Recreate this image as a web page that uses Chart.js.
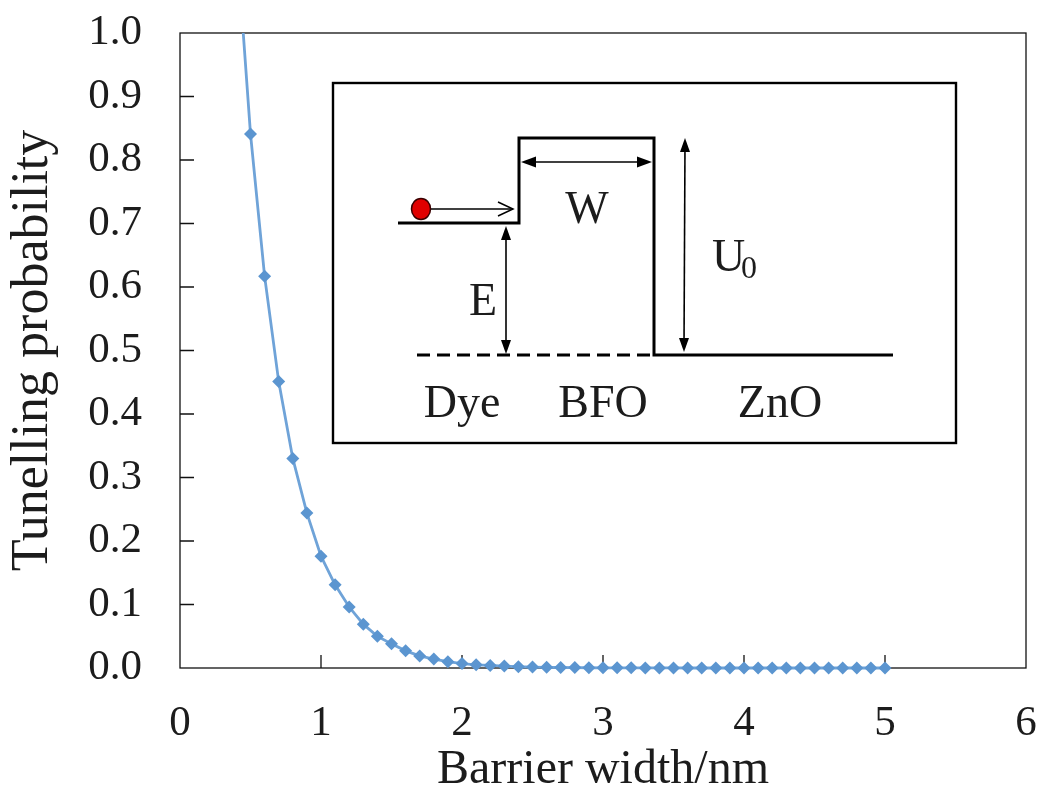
<!DOCTYPE html>
<html>
<head>
<meta charset="utf-8">
<script src="https://cdn.jsdelivr.net/npm/chart.js@4"></script>
<style>
html,body{margin:0;padding:0;background:#fff;}
canvas{display:block;}
</style>
</head>
<body>
<canvas id="c" width="1039" height="803"></canvas>
<script>
// ---- data ----
const barrierWidth = [0.4,0.5,0.6,0.7,0.8,0.9,1.0,1.1,1.2,1.3,1.4,1.5,1.6,1.7,1.8,1.9,2.0,
  2.1,2.2,2.3,2.4,2.5,2.6,2.7,2.8,2.9,3.0,3.1,3.2,3.3,3.4,3.5,3.6,3.7,3.8,3.9,4.0,
  4.1,4.2,4.3,4.4,4.5,4.6,4.7,4.8,4.9,5.0];
const tunnelProb = [1.15,0.841,0.617,0.451,0.330,0.244,0.176,0.131,0.096,0.069,0.050,0.038,0.027,0.019,0.014,0.010,0.007,
  0.005,0.004,0.003,0.002,0.0015,0.001,0.0008,0.0006,0.0004,0.0003,0.0002,0.0002,0.0001,0.0001,0.0001,0,0,0,0,0,
  0,0,0,0,0,0,0,0,0,0];
const xTickValues = [0,1,2,3,4,5,6];
const yTickValues = [0,0.1,0.2,0.3,0.4,0.5,0.6,0.7,0.8,0.9,1.0];
const xTitle = 'Barrier width/nm';
const yTitle = 'Tunelling probability';
const insetLabels = {dye:'Dye', bfo:'BFO', zno:'ZnO', w:'W', e:'E', u:'U', uSub:'0'};

const points = barrierWidth.map((x,i)=>({x:x, y:tunnelProb[i]}));
const SERIF = '"Liberation Serif","Times New Roman",serif';
const TXT = '#1c1c1c';

function arrowHead(ctx, x, y, dir, len, hw) {
  ctx.save();
  ctx.translate(x, y);
  ctx.rotate(dir);
  ctx.beginPath();
  ctx.moveTo(0,0);
  ctx.lineTo(-len, -hw);
  ctx.lineTo(-len, hw);
  ctx.closePath();
  ctx.fill();
  ctx.restore();
}

const framePlugin = {
  id: 'frame',
  beforeDatasetsDraw(chart) {
    const {ctx, chartArea:a, scales} = chart;
    ctx.save();
    ctx.strokeStyle = '#111';
    ctx.lineWidth = 1.3;
    ctx.strokeRect(a.left, a.top, a.right - a.left, a.bottom - a.top);
    ctx.beginPath();
    xTickValues.forEach(v => {
      if (v === 0 || v === 6) return;
      const px = scales.x.getPixelForValue(v);
      ctx.moveTo(px, a.bottom);
      ctx.lineTo(px, a.bottom - 13);
    });
    yTickValues.forEach(v => {
      if (v === 0 || v === 1) return;
      const py = scales.y.getPixelForValue(v);
      ctx.moveTo(a.left, py);
      ctx.lineTo(a.left + 14, py);
    });
    ctx.stroke();
    ctx.restore();
  },
  afterDatasetsDraw(chart) {
    const ctx = chart.ctx;
    ctx.save();
    ctx.strokeStyle = '#000';
    ctx.fillStyle = '#000';
    ctx.lineWidth = 2.4;
    ctx.strokeRect(333, 83, 623, 360);
    ctx.lineWidth = 3;
    ctx.lineJoin = 'miter';
    ctx.beginPath();
    ctx.moveTo(398, 223);
    ctx.lineTo(519, 223);
    ctx.lineTo(519, 138);
    ctx.lineTo(654, 138);
    ctx.lineTo(654, 355);
    ctx.lineTo(893, 355);
    ctx.stroke();
    ctx.setLineDash([13, 7]);
    ctx.beginPath();
    ctx.moveTo(417, 355);
    ctx.lineTo(652, 355);
    ctx.stroke();
    ctx.setLineDash([]);
    ctx.lineWidth = 1.6;
    ctx.beginPath(); ctx.moveTo(525, 162); ctx.lineTo(648, 162); ctx.stroke();
    arrowHead(ctx, 521, 162, Math.PI, 15, 5.5);
    arrowHead(ctx, 652, 162, 0, 15, 5.5);
    ctx.beginPath(); ctx.moveTo(506, 232); ctx.lineTo(506, 350); ctx.stroke();
    arrowHead(ctx, 506, 226, -Math.PI/2, 14, 5);
    arrowHead(ctx, 506, 354, Math.PI/2, 14, 5);
    ctx.beginPath(); ctx.moveTo(685, 144); ctx.lineTo(684, 346); ctx.stroke();
    arrowHead(ctx, 685, 138, -Math.PI/2, 14, 5);
    arrowHead(ctx, 684, 352, Math.PI/2, 14, 5);
    ctx.lineWidth = 1.5;
    ctx.beginPath(); ctx.moveTo(428, 209); ctx.lineTo(513, 209); ctx.stroke();
    ctx.beginPath(); ctx.moveTo(498, 202); ctx.lineTo(513, 209); ctx.lineTo(498, 216); ctx.stroke();
    ctx.beginPath();
    ctx.ellipse(421, 209, 9.5, 10.5, 0, 0, Math.PI*2);
    ctx.fillStyle = '#e00000';
    ctx.fill();
    ctx.strokeStyle = '#3a0000';
    ctx.lineWidth = 1.5;
    ctx.stroke();
    ctx.fillStyle = TXT;
    ctx.textBaseline = 'alphabetic';
    ctx.textAlign = 'center';
    ctx.font = '46px ' + SERIF;
    ctx.fillText(insetLabels.w, 587, 223);
    ctx.fillText(insetLabels.e, 483, 315);
    ctx.fillText(insetLabels.dye, 462, 417);
    ctx.fillText(insetLabels.bfo, 603, 417);
    ctx.fillText(insetLabels.zno, 780, 417);
    ctx.textAlign = 'left';
    ctx.fillText(insetLabels.u, 712, 271);
    ctx.font = '32px ' + SERIF;
    ctx.fillText(insetLabels.uSub, 741, 278);
    ctx.restore();
  }
};

new Chart(document.getElementById('c'), {
  type: 'scatter',
  data: {
    datasets: [{
      data: points,
      showLine: true,
      borderColor: '#6fa3d8',
      backgroundColor: '#5b95d0',
      borderWidth: 2.8,
      pointStyle: 'rectRot',
      pointRadius: 6.5,
      pointHoverRadius: 6.5,
      pointBorderWidth: 0,
      clip: {left: 10, right: 10, top: 0, bottom: 10}
    }]
  },
  options: {
    responsive: false,
    animation: false,
    devicePixelRatio: 1,
    layout: {padding: {left: 0, top: 33, right: 13, bottom: 0}},
    plugins: {legend: {display: false}, tooltip: {enabled: false}},
    scales: {
      x: {
        type: 'linear', min: 0, max: 6,
        afterBuildTicks(s){ s.ticks = xTickValues.map(v=>({value:v})); },
        afterFit(s){ s.height = 135; s.paddingLeft = 0; s.paddingRight = 0; s.paddingTop = 0; s.paddingBottom = 0; },
        grid: {display: false, drawTicks: false},
        border: {display: false},
        ticks: {
          padding: 30, color: TXT, maxRotation: 0, autoSkip: false,
          font: {family: SERIF, size: 43},
          callback: v => String(v)
        },
        title: {display: true, text: xTitle, color: TXT,
          font: {family: SERIF, size: 48}, padding: {top: 0, bottom: 4}}
      },
      y: {
        type: 'linear', min: 0, max: 1,
        afterBuildTicks(s){ s.ticks = yTickValues.map(v=>({value:v})); },
        afterFit(s){ s.width = 180; s.paddingLeft = 0; s.paddingRight = 0; s.paddingTop = 0; s.paddingBottom = 0; },
        grid: {display: false, drawTicks: false},
        border: {display: false},
        ticks: {
          padding: 38, color: TXT, autoSkip: false,
          font: {family: SERIF, size: 43},
          callback: v => Number(v).toFixed(1)
        },
        title: {display: true, text: yTitle, color: TXT,
          font: {family: SERIF, size: 52}, padding: {top: 2, bottom: 0}}
      }
    }
  },
  plugins: [framePlugin]
});
</script>
</body>
</html>
